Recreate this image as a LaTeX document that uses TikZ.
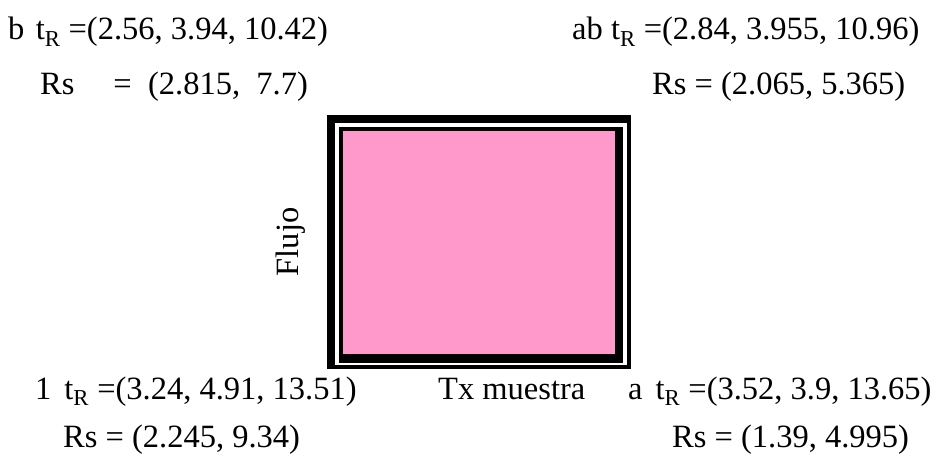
\documentclass[tikz,border=0pt]{standalone}
\usepackage{fontspec}
\setmainfont{Liberation Serif}
\definecolor{pinkfill}{HTML}{FF99CC}
\begin{document}
\begin{tikzpicture}[x=1pt,y=-1pt,
  lbl/.style={anchor=base west,inner sep=0pt,font=\fontsize{32.5}{38}\selectfont}]
\useasboundingbox (0,0) rectangle (943,460);
% frame
\fill[black] (327,115) rectangle (631,369);
\fill[white] (335,123) rectangle (627,365);
\fill[black] (339,127) rectangle (623,363);
\fill[pinkfill] (343,131) rectangle (615,354);
% labels
\node[lbl] (b) at (8,40) {b\hspace{0.35em}t\textsubscript{R} =(2.56, 3.94, 10.42)};
\node[lbl] (bRs) at (40,95) {Rs\hspace{1.2em}=\hspace{0.5em}(2.815,\hspace{0.5em}7.7)};
\node[lbl] (ab) at (572,40) {ab t\textsubscript{R} =(2.84, 3.955, 10.96)};
\node[lbl] (abRs) at (652,95) {Rs = (2.065, 5.365)};
\node[lbl] (one) at (35,399) {1\hspace{0.4em}t\textsubscript{R} =(3.24, 4.91, 13.51)};
\node[lbl] (oneRs) at (63,447) {Rs = (2.245, 9.34)};
\node[lbl] (tx) at (438,399) {Tx muestra};
\node[lbl] (a) at (628,399) {a\hspace{0.4em}t\textsubscript{R} =(3.52, 3.9, 13.65)};
\node[lbl] (aRs) at (672,447) {Rs = (1.39, 4.995)};
\node[inner sep=0pt,rotate=90,font=\fontsize{32.5}{38}\selectfont] (flujo) at (291,242) {Flujo};
\end{tikzpicture}
\end{document}
